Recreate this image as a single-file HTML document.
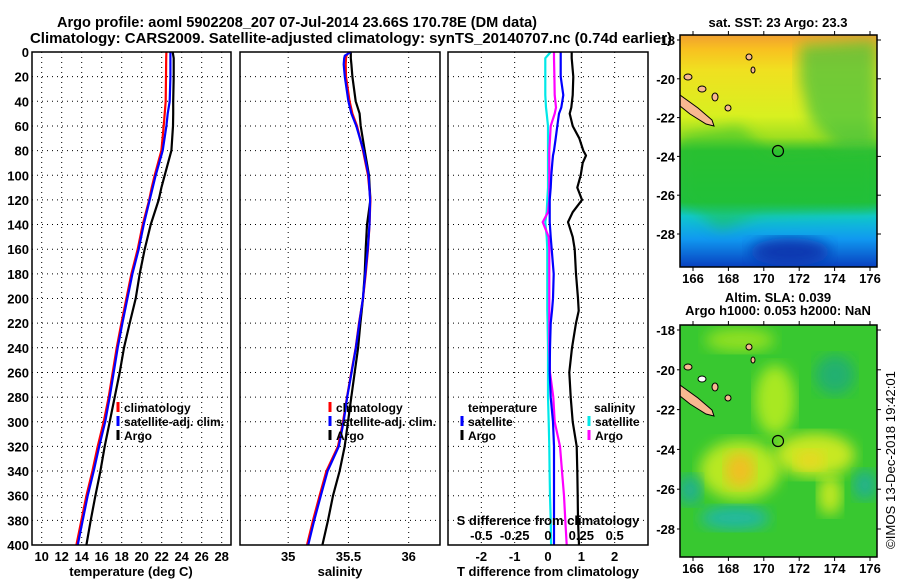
<!DOCTYPE html>
<html><head><meta charset="utf-8"><style>
html,body{margin:0;padding:0;background:#fff;}
svg{display:block;font-family:"Liberation Sans",Arial,sans-serif;font-weight:bold;}
</style></head><body>
<svg id="fig" width="900" height="580" viewBox="0 0 900 580" xmlns="http://www.w3.org/2000/svg">
<defs>
<linearGradient id="sstg" x1="0" y1="0" x2="0" y2="1">
<stop offset="0" stop-color="#f0a030"/><stop offset="0.06" stop-color="#f8c020"/>
<stop offset="0.15" stop-color="#f0e020"/><stop offset="0.35" stop-color="#d8f020"/>
<stop offset="0.44" stop-color="#a0e020"/><stop offset="0.5" stop-color="#30c030"/>
<stop offset="0.72" stop-color="#20c040"/><stop offset="0.78" stop-color="#10c8d0"/>
<stop offset="0.88" stop-color="#1098f0"/><stop offset="1" stop-color="#0840c0"/></linearGradient>
<filter id="blur"><feGaussianBlur stdDeviation="7"/></filter>
<clipPath id="c1"><rect x="680" y="35" width="197" height="232"/></clipPath>
<clipPath id="c2"><rect x="680" y="325" width="197" height="232"/></clipPath>
</defs>
<text x="57" y="27" font-size="15" textLength="480" lengthAdjust="spacingAndGlyphs">Argo profile: aoml 5902208_207 07-Jul-2014 23.66S 170.78E (DM data)</text>
<text x="30" y="43" font-size="15" textLength="642" lengthAdjust="spacingAndGlyphs">Climatology: CARS2009. Satellite-adjusted climatology: synTS_20140707.nc (0.74d earlier)</text>
<g id="p1"></g>
<g id="p2"></g>
<g id="p3"></g>

<g>
<text x="778" y="27" font-size="13" text-anchor="middle">sat. SST: 23 Argo: 23.3</text>
<g clip-path="url(#c1)">
<rect x="680" y="35" width="197" height="232" fill="url(#sstg)"/>
<path d="M800 45 L877 40 L877 150 L840 150 L810 120 L800 80 Z" fill="#40c040" opacity="0.7" filter="url(#blur)"/>
<path d="M680 135 L740 125 L770 155 L877 150 L877 210 L760 215 L720 230 L680 200 Z" fill="#20c030" opacity="0.5" filter="url(#blur)"/>
<ellipse cx="790" cy="252" rx="40" ry="14" fill="#0838b0" filter="url(#blur)"/>
<path d="M680 95 L698 108 L712 120 L714 126 L706 124 L690 114 L680 106 Z" fill="#f8b890" stroke="#000" stroke-width="1"/>
<ellipse cx="688" cy="77" rx="4" ry="3" fill="#f8b890" stroke="#000"/>
<ellipse cx="702" cy="89" rx="4" ry="3" fill="#f8b890" stroke="#000"/>
<ellipse cx="715" cy="97" rx="3" ry="4" fill="#f8b890" stroke="#000"/>
<ellipse cx="728" cy="108" rx="3" ry="3" fill="#f8b890" stroke="#000"/>
<ellipse cx="749" cy="57" rx="3" ry="3" fill="#f8b890" stroke="#000"/>
<ellipse cx="753" cy="70" rx="2" ry="3" fill="#f8b890" stroke="#000"/>
</g>
<circle cx="778" cy="151" r="5.5" fill="none" stroke="#000" stroke-width="1.2"/>
<rect x="680" y="35" width="197" height="232" fill="none" stroke="#000" stroke-width="1.5"/>
<g id="m1ax"></g>
</g>

<g>
<text x="778" y="302" font-size="13" text-anchor="middle">Altim. SLA: 0.039</text>
<text x="778" y="315" font-size="13" text-anchor="middle">Argo h1000: 0.053 h2000: NaN</text>
<g clip-path="url(#c2)">
<rect x="680" y="325" width="197" height="232" fill="#38c830"/>
<ellipse cx="775" cy="400" rx="20" ry="35" fill="#a8e820" filter="url(#blur)"/>
<ellipse cx="740" cy="340" rx="35" ry="12" fill="#90e020" filter="url(#blur)"/>
<ellipse cx="740" cy="470" rx="40" ry="30" fill="#b8e820" filter="url(#blur)"/>
<ellipse cx="740" cy="470" rx="15" ry="18" fill="#f0c020" filter="url(#blur)"/>
<ellipse cx="815" cy="455" rx="40" ry="22" fill="#c8e820" filter="url(#blur)"/>
<ellipse cx="810" cy="460" rx="15" ry="10" fill="#e8d820" filter="url(#blur)"/>
<ellipse cx="830" cy="495" rx="12" ry="20" fill="#c0e820" filter="url(#blur)"/>
<ellipse cx="735" cy="518" rx="35" ry="12" fill="#20b8a0" filter="url(#blur)"/>
<ellipse cx="835" cy="375" rx="20" ry="20" fill="#20b070" filter="url(#blur)"/>
<ellipse cx="690" cy="490" rx="12" ry="15" fill="#20b090" filter="url(#blur)"/>
<ellipse cx="865" cy="485" rx="12" ry="15" fill="#20b090" filter="url(#blur)"/>
<path d="M680 385 L698 398 L712 410 L714 416 L706 414 L690 404 L680 396 Z" fill="#f8b890" stroke="#000" stroke-width="1"/>
<ellipse cx="688" cy="367" rx="4" ry="3" fill="#f8b890" stroke="#000"/>
<ellipse cx="702" cy="379" rx="4" ry="3" fill="#fff" stroke="#000"/>
<ellipse cx="715" cy="387" rx="3" ry="4" fill="#f8b890" stroke="#000"/>
<ellipse cx="728" cy="398" rx="3" ry="3" fill="#f8b890" stroke="#000"/>
<ellipse cx="749" cy="347" rx="3" ry="3" fill="#f8b890" stroke="#000"/>
<ellipse cx="753" cy="360" rx="2" ry="3" fill="#f8b890" stroke="#000"/>
</g>
<circle cx="778" cy="441" r="5.5" fill="none" stroke="#000" stroke-width="1.2"/>
<rect x="680" y="325" width="197" height="232" fill="none" stroke="#000" stroke-width="1.5"/>
<g id="m2ax"></g>
</g>
<text x="895" y="549" font-size="13" font-weight="normal" textLength="178" lengthAdjust="spacingAndGlyphs" transform="rotate(-90 895 549)">©IMOS 13-Dec-2018 19:42:01</text>
</svg>
<script>
// ---- data ----
const depthT = [0,5,20,40,50,60,80,100,110,120,140,160,180,200,220,240,260,280,300,320,340,360,380,400];
const tempClim = [22.47,22.45,22.43,22.4,22.3,22.2,21.97,21.3,21.0,20.75,20.1,19.6,18.97,18.47,17.97,17.5,17.1,16.7,16.2,15.6,15.07,14.47,13.97,13.47];
const tempSat  = [22.87,22.87,22.87,22.8,22.6,22.47,22.1,21.4,21.1,20.8,20.2,19.7,19.07,18.57,18.07,17.6,17.2,16.8,16.35,15.75,15.2,14.6,14.1,13.6];
const tempArgo = [23.1,23.2,23.2,23.15,23.15,23.13,22.97,22.3,21.97,21.7,20.9,20.3,19.8,19.4,18.8,18.23,17.8,17.3,16.8,16.3,15.87,15.37,14.9,14.47];
const depthS = [0,3,5,10,20,40,50,60,80,100,120,140,160,180,200,220,240,260,280,300,320,340,360,380,400];
const salClim = [35.505,35.483,35.48,35.477,35.48,35.51,35.533,35.571,35.621,35.662,35.682,35.675,35.662,35.643,35.621,35.588,35.56,35.524,35.488,35.455,35.413,35.317,35.261,35.206,35.156];
const salSat  = [35.52,35.47,35.465,35.461,35.47,35.5,35.525,35.565,35.625,35.667,35.68,35.675,35.66,35.64,35.62,35.59,35.562,35.526,35.49,35.46,35.42,35.327,35.271,35.216,35.166];
const salArgo = [35.52,35.52,35.52,35.525,35.533,35.56,35.593,35.602,35.635,35.671,35.682,35.654,35.643,35.635,35.621,35.599,35.58,35.552,35.524,35.496,35.469,35.427,35.372,35.33,35.284];
const depthD = [0,5,20,35,45,50,60,70,80,84,90,100,110,120,130,138,150,160,180,200,210,220,240,260,280,300,320,340,360,380,400];
const dTsat  = [0.38,0.38,0.38,0.46,0.4,0.33,0.28,0.23,0.18,0.15,0.13,0.1,0.08,0.05,0.05,0.05,0.08,0.11,0.17,0.15,0.12,0.08,0.06,0.05,0.08,0.15,0.18,0.18,0.18,0.18,0.18];
const dTargo = [0.71,0.71,0.76,0.74,0.7,0.65,0.74,0.94,1.06,1.14,1.04,0.98,0.88,1.02,0.74,0.6,0.74,0.8,0.84,0.9,0.92,0.84,0.72,0.64,0.68,0.74,0.86,0.88,0.89,0.9,0.93];
const dSsat  = [0.02,-0.02,-0.02,-0.02,-0.015,-0.01,0,0,0,0,0,0,0,-0.005,-0.01,-0.02,-0.01,-0.005,-0.005,-0.005,-0.005,-0.003,0,0,0,0.005,0.01,0.012,0.015,0.02,0.023];
const dSargo = [0.045,0.045,0.048,0.05,0.06,0.05,0.02,0.015,0.01,0.01,0.01,0.01,0.01,0.01,0.0,-0.04,0.005,0.01,0.01,0.01,0.01,0.01,0.01,0.015,0.04,0.05,0.09,0.105,0.12,0.13,0.14];
const depthTicks = [0,20,40,60,80,100,120,140,160,180,200,220,240,260,280,300,320,340,360,380,400];
const tempTicks = [10,12,14,16,18,20,22,24,26,28];
const salTicks = [35,35.5,36];
const dTTicks = [-2,-1,0,1,2];
const dSTicks = [-0.5,-0.25,0,0.25,0.5];
const lonTicks = [166,168,170,172,174,176];
const latTicks = [-18,-20,-22,-24,-26,-28];

const NS='http://www.w3.org/2000/svg';
function mk(tag,attrs,parent,txt){const e=document.createElementNS(NS,tag);for(const k in attrs)e.setAttribute(k,attrs[k]);if(txt!==undefined)e.textContent=txt;parent.appendChild(e);return e;}
const Y0=52,Y1=545;
const yD=d=>Y0+(Y1-Y0)*d/400;
const p1={x0:32,x1:231,v0:9.03,v1:28.93};
const p2={x0:240,x1:440,v0:34.6,v1:36.26};
const p3={x0:448,x1:648,v0:-3.0,v1:3.0};
function sx(p,v){return p.x0+(v-p.v0)/(p.v1-p.v0)*(p.x1-p.x0);}
const sS=v=>548+v*133.3;

function frame(g,p){
  depthTicks.forEach(d=>{
    if(d>0&&d<400){const l=mk('line',{x1:p.x0,x2:p.x1,y1:yD(d),y2:yD(d),stroke:'#000','stroke-width':1,'stroke-dasharray':'1,4'},g);
    
    }
  });
}
function vgrid(g,x){const l=mk('line',{x1:x,x2:x,y1:Y0,y2:Y1,stroke:'#000','stroke-width':1,'stroke-dasharray':'1,4'},g);
  
  }
function box(g,p){const r=mk('rect',{x:p.x0,y:Y0,width:p.x1-p.x0,height:Y1-Y0,fill:'none',stroke:'#000','stroke-width':1.5},g);
  
  }
function line(g,xs,ds,fx,color,w,name){
  const pts=xs.map((v,i)=>fx(v).toFixed(1)+','+yD(ds[i]).toFixed(1)).join(' ');
  const l=mk('polyline',{points:pts,fill:'none',stroke:color,'stroke-width':w,'stroke-linejoin':'round'},g);
  
  
}
function txt(g,x,y,s,anchor,name,size){const t=mk('text',{x:x,y:y,'font-size':size||13,'text-anchor':anchor||'start'},g,s);
  
  return t;}
function legend(g,x,y,color,label,name){
  const m=mk('line',{x1:x,x2:x,y1:y-10,y2:y,stroke:color,'stroke-width':3},g);
  
  
  txt(g,x+6,y,label,'start',name,12);
}

// panel 1
const g1=document.getElementById('p1');
frame(g1,p1);tempTicks.forEach(t=>vgrid(g1,sx(p1,t)));
line(g1,tempArgo,depthT,v=>sx(p1,v),'#000',2.2,'temp-argo-line');
line(g1,tempClim,depthT,v=>sx(p1,v),'#f00',2.2,'temp-climatology-line');
line(g1,tempSat,depthT,v=>sx(p1,v),'#00f',2.2,'temp-satellite-line');
box(g1,p1);
depthTicks.forEach(d=>txt(g1,29,yD(d)+5,String(d),'end','depth-tick-label'));
tempTicks.forEach(t=>txt(g1,sx(p1,t),561,String(t),'middle','temp-tick-label'));
txt(g1,131,576,'temperature (deg C)','middle','temperature-axis-title');
legend(g1,118,412,'#f00','climatology','legend-climatology');
legend(g1,118,426,'#00f','satellite-adj. clim.','legend-satellite');
legend(g1,118,440,'#000','Argo','legend-argo');

// panel 2
const g2=document.getElementById('p2');
frame(g2,p2);salTicks.forEach(t=>vgrid(g2,sx(p2,t)));
line(g2,salArgo,depthS,v=>sx(p2,v),'#000',2.2,'sal-argo-line');
line(g2,salClim,depthS,v=>sx(p2,v),'#f00',2.2,'sal-climatology-line');
line(g2,salSat,depthS,v=>sx(p2,v),'#00f',2.2,'sal-satellite-line');
box(g2,p2);
salTicks.forEach(t=>txt(g2,sx(p2,t),561,String(t),'middle','sal-tick-label'));
txt(g2,340,576,'salinity','middle','salinity-axis-title');
legend(g2,330,412,'#f00','climatology','legend-climatology');
legend(g2,330,426,'#00f','satellite-adj. clim.','legend-satellite');
legend(g2,330,440,'#000','Argo','legend-argo');

// panel 3
const g3=document.getElementById('p3');
frame(g3,p3);dTTicks.forEach(t=>{if(t!==0)vgrid(g3,sx(p3,t));});
line(g3,dTargo,depthD,v=>sx(p3,v),'#000',2.2,'dT-argo-line');
line(g3,dSsat,depthD,sS,'#00e8e8',2.2,'dS-satellite-line');
line(g3,dSargo,depthD,sS,'#f0f',2.2,'dS-argo-line');
line(g3,dTsat,depthD,v=>sx(p3,v),'#00f',2.2,'dT-satellite-line');
box(g3,p3);
dTTicks.forEach(t=>txt(g3,sx(p3,t),561,String(t),'middle','dT-tick-label'));
dSTicks.forEach(t=>txt(g3,sS(t),540,String(t),'middle','dS-tick-label'));
txt(g3,548,525,'S difference from climatology','middle','dS-axis-title');
txt(g3,548,576,'T difference from climatology','middle','dT-axis-title');
txt(g3,468,412,'temperature','start','legend-temperature-heading',12);
legend(g3,462,426,'#00f','satellite','legend-t-satellite');
legend(g3,462,440,'#000','Argo','legend-t-argo');
txt(g3,594,412,'salinity','start','legend-salinity-heading',12);
legend(g3,589,426,'#00e8e8','satellite','legend-s-satellite');
legend(g3,589,440,'#f0f','Argo','legend-s-argo');

// map axes
function mapAxes(id,top,bot,lat0y,latStep){
  const g=document.getElementById(id);
  lonTicks.forEach(lo=>{const x=693+(lo-166)*17.7;
    mk('line',{x1:x,x2:x,y1:top-4,y2:top,stroke:'#000'},g);
    mk('line',{x1:x,x2:x,y1:bot,y2:bot+4,stroke:'#000'},g);
    txt(g,x,bot+16,String(lo),'middle','lon-tick-label');});
  latTicks.forEach((la,i)=>{const y=lat0y+i*latStep;
    mk('line',{x1:677,x2:680,y1:y,y2:y,stroke:'#000'},g);
    mk('line',{x1:877,x2:881,y1:y,y2:y,stroke:'#000'},g);
    txt(g,675,y+5,String(la),'end','lat-tick-label');});
}
mapAxes('m1ax',35,267,40,38.8);
mapAxes('m2ax',325,557,330,39.8);
</script>
</body></html>
